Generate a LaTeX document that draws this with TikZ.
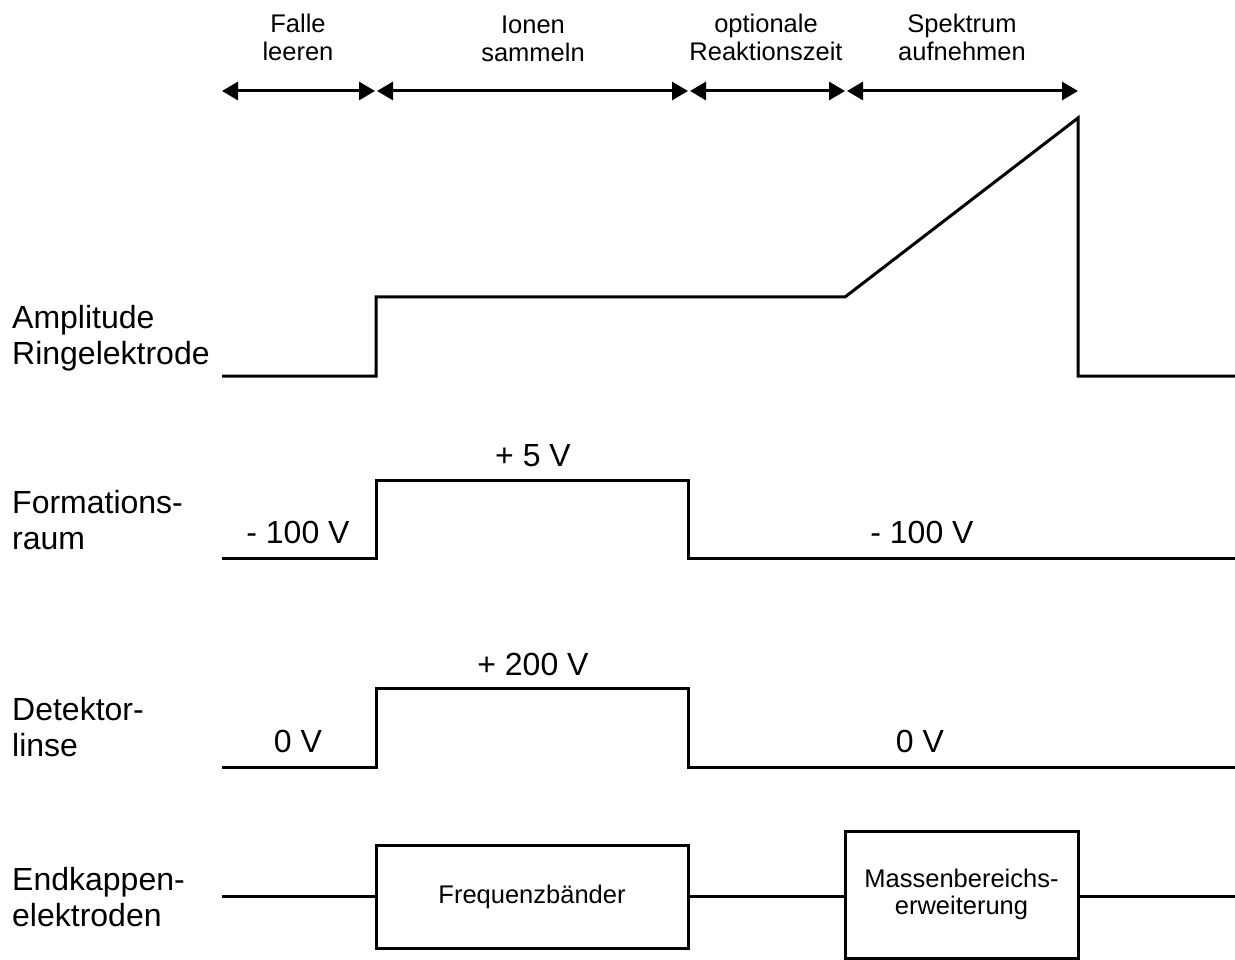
\documentclass[tikz,border=0pt]{standalone}
\usepackage{fontspec}
\setmainfont{Liberation Sans}
\usetikzlibrary{arrows.meta}
\begin{document}
\begin{tikzpicture}[x=1pt,y=-1pt,
  wave/.style={line width=3pt},
  phase/.style={line width=3pt,{Triangle[length=16pt,width=18pt]}-{Triangle[length=16pt,width=18pt]}},
  rowlbl/.style={font=\fontsize{32}{36}\selectfont, inner sep=0pt, align=left, anchor=west},
  vlbl/.style={font=\fontsize{32}{36}\selectfont, inner sep=0pt, anchor=base},
  toplbl/.style={font=\fontsize{25.5}{28}\selectfont, inner sep=0pt, align=center},
  boxnode/.style={draw, line width=3pt, inner sep=0pt, align=center, font=\fontsize{25.5}{27}\selectfont}]
\useasboundingbox (0,0) rectangle (1235,960);

% phase arrows
\coordinate (p1a) at (222,91); \coordinate (p1b) at (375,91);
\coordinate (p2a) at (377,91); \coordinate (p2b) at (688,91);
\coordinate (p3a) at (690,91); \coordinate (p3b) at (845,91);
\coordinate (p4a) at (847,91); \coordinate (p4b) at (1078,91);
\draw[phase] (p1a) -- (p1b);
\draw[phase] (p2a) -- (p2b);
\draw[phase] (p3a) -- (p3b);
\draw[phase] (p4a) -- (p4b);
\node[toplbl] (ph1) at (298,37) {Falle\\leeren};
\node[toplbl] (ph2) at (533,38.5) {Ionen\\sammeln};
\node[toplbl] (ph3) at (766,37) {optionale\\Reaktionszeit};
\node[toplbl] (ph4) at (962,37) {Spektrum\\aufnehmen};

% Amplitude Ringelektrode
\node[rowlbl] (l1) at (12,338) {Amplitude\\Ringelektrode};
\coordinate (a0) at (222,376); \coordinate (a1) at (376,376);
\coordinate (a2) at (376,297); \coordinate (a3) at (845,297);
\coordinate (a4) at (1078,118); \coordinate (a5) at (1078,376);
\coordinate (a6) at (1235,376);
\draw[wave] (a0) -- (a1) -- (a2) -- (a3) -- (a4) -- (a5) -- (a6);

% Formationsraum
\node[rowlbl] (l2) at (12,520) {Formations-\\raum};
\coordinate (f0) at (222,558); \coordinate (f1) at (376,558);
\coordinate (f2) at (376,480); \coordinate (f3) at (688,480);
\coordinate (f4) at (688,558); \coordinate (f5) at (1235,558);
\draw[wave] (f0) -- (f1) -- (f2) -- (f3) -- (f4) -- (f5);
\node[vlbl] (fv1) at (533,466) {+ 5 V};
\node[vlbl] (fv0) at (298,543) {- 100 V};
\node[vlbl] (fv2) at (922,543) {- 100 V};

% Detektorlinse
\node[rowlbl] (l3) at (12,727) {Detektor-\\linse};
\coordinate (d0) at (222,767); \coordinate (d1) at (376,767);
\coordinate (d2) at (376,688); \coordinate (d3) at (688,688);
\coordinate (d4) at (688,767); \coordinate (d5) at (1235,767);
\draw[wave] (d0) -- (d1) -- (d2) -- (d3) -- (d4) -- (d5);
\node[vlbl] (dv1) at (533,675) {+ 200 V};
\node[vlbl] (dv0) at (298,752) {0 V};
\node[vlbl] (dv2) at (920,752) {0 V};

% Endkappenelektroden
\node[rowlbl] (l4) at (12,897) {Endkappen-\\elektroden};
\node[boxnode, minimum width=312pt, minimum height=103pt] (fb) at (532,896.5) {Frequenzbänder};
\node[boxnode, minimum width=233pt, minimum height=127pt] (mb) at (961.5,894.5) {Massenbereichs-\\erweiterung};
\coordinate (e0) at (222,896.5);
\coordinate (e1) at (1235,896.5);
\draw[wave] (e0) -- (fb.west);
\draw[wave] (fb.east) -- (fb.east -| mb.west);
\draw[wave] (mb.east |- e1) -- (e1);
\end{tikzpicture}
\end{document}
